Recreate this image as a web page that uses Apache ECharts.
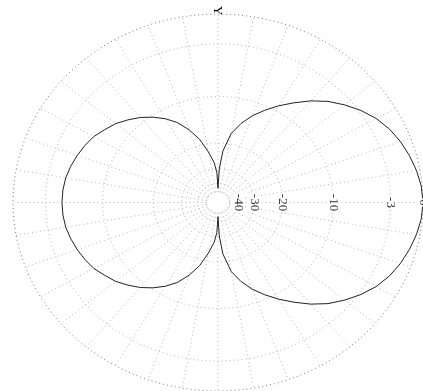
<!DOCTYPE html>
<html>
<head>
<meta charset="utf-8">
<style>
  html, body { margin: 0; padding: 0; background: #fff; }
  #chart { width: 423px; height: 391px; }
</style>
<script src="https://cdn.jsdelivr.net/npm/echarts@6/dist/echarts.min.js"></script>
</head>
<body>
<div id="chart"></div>
<script>
// Radiation pattern, gain in dB against azimuth in degrees
const angleDeg = [0, 5, 10, 15, 20, 25, 30, 35, 40, 45, 50, 55, 60, 65, 70, 75, 80, 85, 88, 90,
  92, 95, 100, 105, 110, 115, 120, 125, 130, 135, 140, 145, 150, 155, 160, 165, 170, 175, 180,
  185, 190, 195, 200, 205, 210, 215, 220, 225, 230, 235, 240, 245, 250, 255, 260, 265, 268, 270,
  272, 275, 280, 285, 290, 295, 300, 305, 310, 315, 320, 325, 330, 335, 340, 345, 350, 355, 360];
const gainDb = [0, -0.08, -0.3, -0.6, -0.95, -1.4, -2.0, -2.8, -3.75, -4.8, -6.1, -7.6, -9.1, -10.7, -12.4, -14.5, -17.2, -22.5, -30, -45,
  -32, -27, -22.5, -18.4, -15.5, -13.2, -11.6, -10.3, -9.2, -8.3, -7.45, -6.85, -6.2, -5.8, -5.45, -5.15, -4.9, -4.78, -4.74,
  -4.78, -4.9, -5.15, -5.45, -5.8, -6.2, -6.85, -7.45, -8.3, -9.2, -10.3, -11.6, -13.2, -15.5, -18.4, -22.5, -27, -32, -45,
  -30, -22.5, -17.2, -14.5, -12.4, -10.7, -9.1, -7.6, -6.1, -4.8, -3.75, -2.8, -2.0, -1.4, -0.95, -0.6, -0.3, -0.08, 0];

// Grid rings (dB) and their tick labels
const ringDb = [-50, -40, -30, -20, -10, -3, 0];
const tickDb = [-40, -30, -20, -10, -3, 0];
const tickLabels = ['-40', '-30', '-20', '-10', '-3', '0'];
const spokeStepDeg = 10;
const minDb = -50;

// radial scale: r = 10^(dB/40)
const rad = db => Math.pow(10, db / 40);
const toXY = (db, deg) => {
  const r = rad(db), a = deg * Math.PI / 180;
  return [r * Math.cos(a), r * Math.sin(a)];
};

const dotted = [1, 3];
const series = [];

// rings
ringDb.forEach(db => {
  const pts = [];
  for (let a = 0; a <= 360; a += 2) pts.push(toXY(db, a));
  let color = '#b8b8b8';
  if (db === 0) color = '#777';
  if (db === -3) color = '#e6a0a0';
  series.push({
    type: 'line', data: pts, showSymbol: false, silent: true, clip: false,
    lineStyle: { color: color, width: 1, type: dotted }, z: 1
  });
});

// spokes
for (let a = 0; a < 360; a += spokeStepDeg) {
  series.push({
    type: 'line', data: [toXY(minDb, a), toXY(0, a)], showSymbol: false, silent: true, clip: false,
    lineStyle: { color: '#b8b8b8', width: 1, type: dotted }, z: 1
  });
}

// pattern
series.push({
  type: 'line',
  data: angleDeg.map((a, i) => toXY(gainDb[i], a)),
  showSymbol: false, smooth: false, clip: false,
  lineStyle: { color: '#222', width: 1 }, z: 5
});

// tick labels along 0 degrees
series.push({
  type: 'scatter',
  data: tickDb.map((db, i) => ({ value: toXY(db, 0), name: tickLabels[i] })),
  symbolSize: 0, z: 6,
  label: {
    show: true, position: 'inside', rotate: -90,
    formatter: p => p.name,
    fontFamily: 'Liberation Serif', fontSize: 13, color: '#000',
    backgroundColor: '#fff', padding: [0, 1]
  }
});

const chart = echarts.init(document.getElementById('chart'), null, { renderer: 'canvas' });
chart.setOption({
  animation: false,
  backgroundColor: '#fff',
  grid: { left: 13, top: 14, width: 410, height: 392, containLabel: false },
  xAxis: { type: 'value', min: -1, max: 1, show: false },
  yAxis: { type: 'value', min: -1, max: 1, show: false },
  graphic: [{
    type: 'text', left: 211, top: 6, rotation: -Math.PI / 2,
    style: { text: 'Y', fontFamily: 'Liberation Serif', fontSize: 13, fill: '#000' }
  }],
  series: series
});
</script>
</body>
</html>
